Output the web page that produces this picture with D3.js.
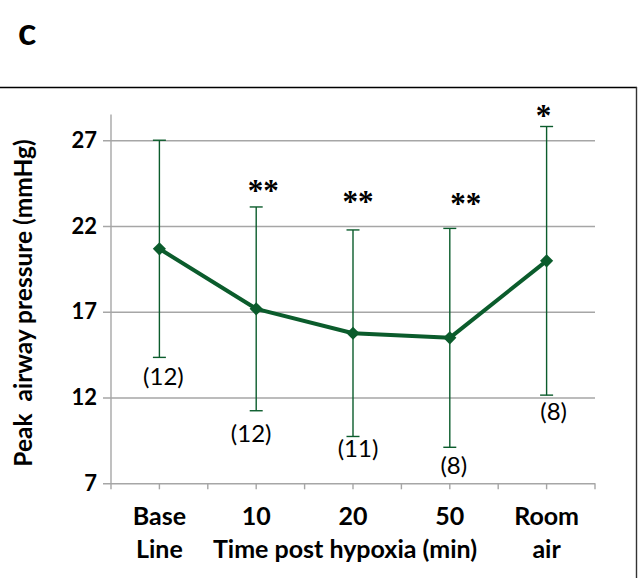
<!DOCTYPE html>
<html>
<head>
<meta charset="utf-8">
<script src="https://cdn.jsdelivr.net/npm/d3@7"></script>
<style>
  html, body { margin: 0; padding: 0; background: #fff; }
  svg { display: block; }
  text { font-family: Lato, "Open Sans", sans-serif; fill: #000; }
</style>
</head>
<body>
<svg id="chart" width="639" height="578"></svg>
<script>
// Peak airway pressure over time after hypoxia (mean ± SD)
const categories = ["Base Line", "10", "20", "50", "Room air"];
const categoryLines = [["Base", "Line"], ["10"], ["20"], ["50"], ["Room", "air"]];
const meanPressure = [20.67, 17.17, 15.75, 15.48, 19.97];
const sdPressure = [6.33, 5.94, 6.02, 6.38, 7.83];
const sampleSize = ["(12)", "(12)", "(11)", "(8)", "(8)"];
const significance = ["", "**", "**", "**", "*"];
const yTicks = [7, 12, 17, 22, 27];

const svg = d3.select("#chart");
const green = "#0b5c2c";
const gridColor = "#a6a6a6";

const plot = { left: 111, right: 595, top: 114.5, bottom: 483.3 };

const x = d3.scaleBand().domain(categories).range([plot.left, plot.right]).padding(0);
const cx = c => x(c) + x.bandwidth() / 2;
const y = d3.scaleLinear().domain([7, 28.5]).range([plot.bottom, plot.top]);

// Panel frame
svg.append("line").attr("x1", 0).attr("x2", 637).attr("y1", 87.5).attr("y2", 87.5)
  .attr("stroke", "#000").attr("stroke-width", 1.6);
svg.append("line").attr("x1", 636.5).attr("x2", 636.5).attr("y1", 87).attr("y2", 578)
  .attr("stroke", "#333").attr("stroke-width", 1.4);

// Panel letter
svg.append("text").attr("x", 18).attr("y", 45).attr("font-size", 38).attr("font-weight", 700).text("c");

// Horizontal gridlines with outward ticks
const yAxis = d3.axisLeft(y).tickValues(yTicks).tickSize(-(plot.right - plot.left)).tickSizeOuter(0).tickPadding(14);
const gy = svg.append("g").attr("transform", `translate(${plot.left},0)`).call(yAxis);
gy.select(".domain").remove();
gy.selectAll(".tick line").attr("x1", -8).attr("stroke", gridColor).attr("stroke-width", 1.4);
gy.selectAll(".tick text").attr("font-size", 22).attr("font-weight", 700)
  .attr("font-family", "Lato, sans-serif").attr("fill", "#000");

// Vertical axis line
svg.append("line").attr("x1", plot.left).attr("x2", plot.left).attr("y1", plot.top).attr("y2", plot.bottom)
  .attr("stroke", gridColor).attr("stroke-width", 1.4);

// Category axis: ticks at band edges and centers
const halfTicks = [];
categories.forEach(c => { halfTicks.push(x(c)); halfTicks.push(cx(c)); });
halfTicks.push(plot.right);
svg.append("g").selectAll("line").data(halfTicks).join("line")
  .attr("x1", d => d).attr("x2", d => d).attr("y1", plot.bottom).attr("y2", plot.bottom + 6)
  .attr("stroke", gridColor).attr("stroke-width", 1.4);

// Category labels
const xl = svg.append("g");
categories.forEach((c, i) => {
  const t = xl.append("text").attr("x", cx(c)).attr("y", 525).attr("text-anchor", "middle")
    .attr("font-size", 25).attr("font-weight", 700);
  categoryLines[i].forEach((line, j) => {
    t.append("tspan").attr("x", cx(c)).attr("dy", j === 0 ? 0 : 33).text(line);
  });
});
svg.append("text").attr("x", (cx("10") + cx("50")) / 2 - 8).attr("y", 558).attr("text-anchor", "middle")
  .attr("font-size", 25).attr("font-weight", 700).text("Time post hypoxia (min)");

// Y axis title
svg.append("text").attr("transform", `translate(32,303) rotate(-90)`).attr("text-anchor", "middle")
  .attr("font-size", 24.5).attr("font-weight", 700).attr("xml:space", "preserve")
  .text("Peak  airway pressure (mmHg)");

// Error bars
const capHalf = 6.5;
const eb = svg.append("g").attr("stroke", green).attr("stroke-width", 1.4).attr("fill", "none");
categories.forEach((c, i) => {
  const hi = y(meanPressure[i] + sdPressure[i]);
  const lo = y(meanPressure[i] - sdPressure[i]);
  eb.append("line").attr("x1", cx(c)).attr("x2", cx(c)).attr("y1", hi).attr("y2", lo);
  eb.append("line").attr("x1", cx(c) - capHalf).attr("x2", cx(c) + capHalf).attr("y1", hi).attr("y2", hi);
  eb.append("line").attr("x1", cx(c) - capHalf).attr("x2", cx(c) + capHalf).attr("y1", lo).attr("y2", lo);
});

// Mean line with diamond markers
const line = d3.line().x((d, i) => cx(categories[i])).y(d => y(d));
svg.append("path").datum(meanPressure).attr("d", line).attr("fill", "none")
  .attr("stroke", green).attr("stroke-width", 4).attr("stroke-linejoin", "round");
const diamond = d3.symbol().type(d3.symbolDiamond2).size(110);
svg.append("g").selectAll("path").data(meanPressure).join("path")
  .attr("transform", (d, i) => `translate(${cx(categories[i])},${y(d)})`)
  .attr("d", diamond).attr("fill", green);

// Sample sizes below each error bar (small per-label nudges)
const nNudge = [[4, 19], [-5, 23], [5, 12], [4, 18], [7, 16]];
svg.append("g").selectAll("text").data(sampleSize).join("text")
  .attr("x", (d, i) => cx(categories[i]) + nNudge[i][0])
  .attr("y", (d, i) => y(meanPressure[i] - sdPressure[i]) + nNudge[i][1])
  .attr("dy", "0.35em").attr("text-anchor", "middle").attr("font-size", 24).text(d => d);

// Significance markers above error bars
const sigNudge = [[0, 0], [7, -21], [5, -33], [16, -29], [-3, -15]];
svg.append("g").selectAll("text").data(significance).join("text")
  .attr("x", (d, i) => cx(categories[i]) + sigNudge[i][0])
  .attr("y", (d, i) => y(meanPressure[i] + sdPressure[i]) + sigNudge[i][1])
  .attr("dy", "0.47em").attr("text-anchor", "middle").attr("font-weight", 700)
  .style("font-family", "'Liberation Serif', serif").attr("font-size", 31).text(d => d);
</script>
</body>
</html>
